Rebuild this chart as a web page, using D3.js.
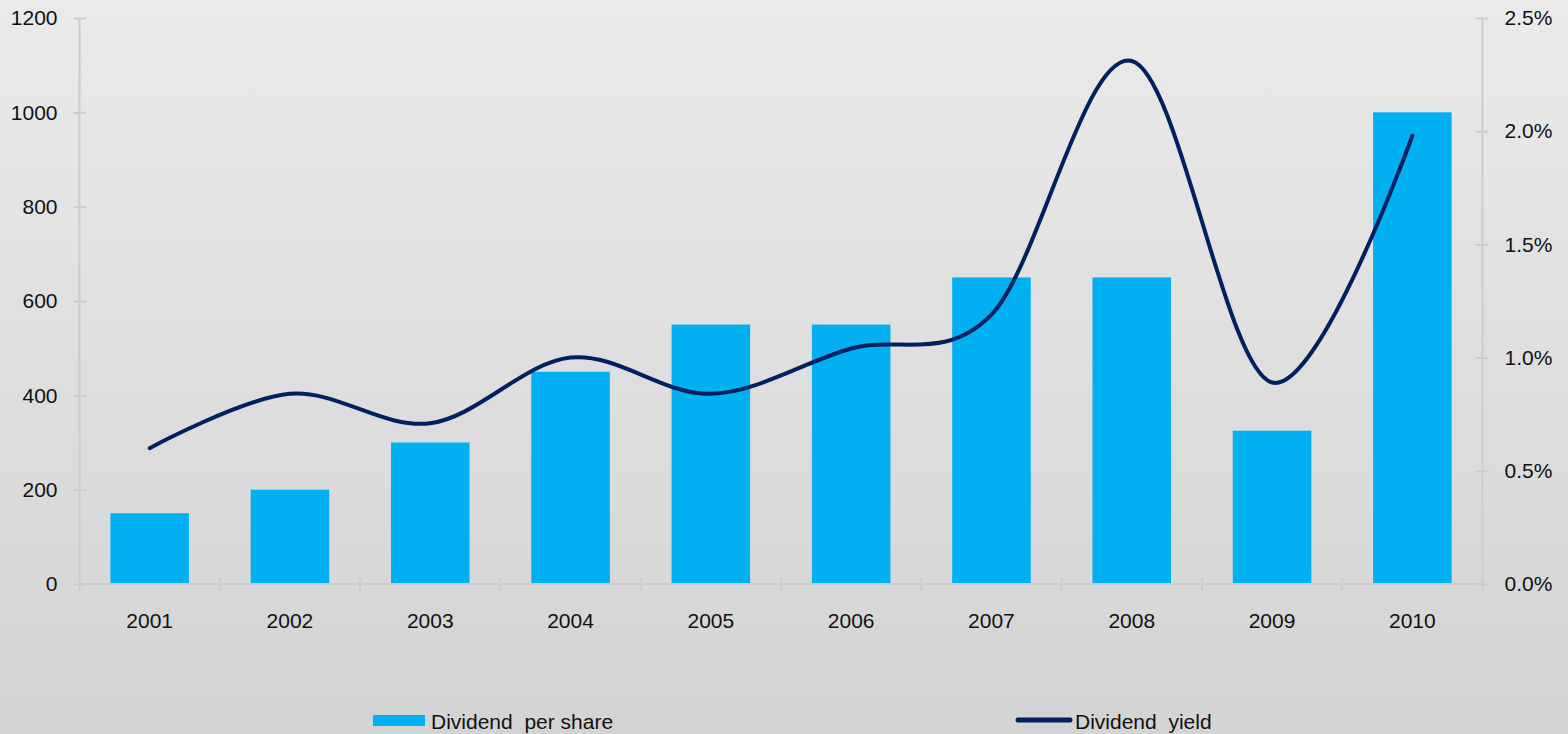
<!DOCTYPE html>
<html>
<head>
<meta charset="utf-8">
<script src="https://cdn.jsdelivr.net/npm/d3@7"></script>
<style>
  html, body { margin: 0; padding: 0; }
  svg { display: block; font-family: "Liberation Sans", Arial, sans-serif; }
</style>
</head>
<body>
<div class="chart"></div>
<script>
// Data
const years = ['2001', '2002', '2003', '2004', '2005', '2006', '2007', '2008', '2009', '2010'];
const dividendPerShare = [150, 200, 300, 450, 550, 550, 650, 650, 325, 1000];
const dividendYield = [0.60, 0.84, 0.71, 1.00, 0.84, 1.04, 1.19, 2.31, 0.89, 1.98];
const leftTicks = [0, 200, 400, 600, 800, 1000, 1200];
const rightTicks = [0, 0.5, 1.0, 1.5, 2.0, 2.5];

const W = 1568, H = 734;
const plotLeft = 79.5, plotRight = 1482.5, plotTop = 18, plotBottom = 584;
const axisColor = '#c9ccd1';
const fontSize = '21px';

const svg = d3.select('.chart')
    .append('svg')
    .attr('width', W)
    .attr('height', H);

// background gradient
const defs = svg.append('defs');
const grad = defs.append('linearGradient')
    .attr('id', 'bg')
    .attr('x1', 0).attr('y1', 0).attr('x2', 0).attr('y2', 1);
grad.append('stop').attr('offset', '0%').attr('stop-color', '#eaeaea');
grad.append('stop').attr('offset', '100%').attr('stop-color', '#d3d3d3');

svg.append('rect')
    .attr('width', W)
    .attr('height', H)
    .attr('fill', 'url(#bg)');

// Scales
const x = d3.scaleBand()
    .domain(years)
    .range([plotLeft, plotRight])
    .paddingInner(0.44)
    .paddingOuter(0.22);

const yLeft = d3.scaleLinear().domain([0, 1200]).range([plotBottom, plotTop]);
const yRight = d3.scaleLinear().domain([0, 2.5]).range([plotBottom, plotTop]);

// Bars
svg.selectAll('.bar')
    .data(years)
    .join('rect')
    .attr('class', 'bar')
    .attr('x', d => x(d))
    .attr('width', x.bandwidth())
    .attr('y', (d, i) => yLeft(dividendPerShare[i]))
    .attr('height', (d, i) => plotBottom - yLeft(dividendPerShare[i]))
    .attr('fill', '#00b0f0');

// Left axis
const gLeft = svg.append('g')
    .attr('transform', `translate(${plotLeft},0)`)
    .call(d3.axisLeft(yLeft).tickValues(leftTicks).tickSize(6).tickPadding(16).tickFormat(d3.format('d')));

// Right axis
const gRight = svg.append('g')
    .attr('transform', `translate(${plotRight},0)`)
    .call(d3.axisRight(yRight).tickValues(rightTicks).tickSize(6).tickPadding(16).tickFormat(d => d.toFixed(1) + '%'));

[gLeft, gRight].forEach((g, k) => {
    g.select('.domain').attr('stroke', axisColor).attr('stroke-width', 2)
        .attr('d', `M0,${plotTop}V${plotBottom}`);
    g.selectAll('.tick line')
        .attr('stroke', axisColor)
        .attr('stroke-width', 2)
        .attr('x1', k === 0 ? 7 : -7);
    g.selectAll('.tick text')
        .attr('fill', '#111')
        .style('font-size', fontSize)
        .style('font-family', '"Liberation Sans", Arial, sans-serif');
});

// Bottom axis line + ticks at category boundaries
const gap = x.step() - x.bandwidth();
const boundaries = years.map(d => x(d) - gap / 2).concat([x(years[years.length - 1]) + x.bandwidth() + gap / 2]);

svg.append('line')
    .attr('x1', plotLeft).attr('x2', plotRight)
    .attr('y1', plotBottom).attr('y2', plotBottom)
    .attr('stroke', axisColor)
    .attr('stroke-width', 2);

svg.selectAll('.xtick')
    .data(boundaries)
    .join('line')
    .attr('class', 'xtick')
    .attr('x1', d => d).attr('x2', d => d)
    .attr('y1', plotBottom - 6).attr('y2', plotBottom + 7)
    .attr('stroke', axisColor)
    .attr('stroke-width', 2);

svg.selectAll('.xlabel')
    .data(years)
    .join('text')
    .attr('class', 'xlabel')
    .attr('x', d => x(d) + x.bandwidth() / 2)
    .attr('y', 628)
    .attr('text-anchor', 'middle')
    .attr('fill', '#111')
    .style('font-size', fontSize)
    .text(d => d);

// Yield line
const line = d3.line()
    .x(d => x(d.year) + x.bandwidth() / 2)
    .y(d => yRight(d.value))
    .curve(d3.curveCatmullRom.alpha(0));

svg.append('path')
    .datum(years.map((d, i) => ({ year: d, value: dividendYield[i] })))
    .attr('d', line)
    .attr('fill', 'none')
    .attr('stroke', '#002060')
    .attr('stroke-width', 4)
    .attr('stroke-linecap', 'round');

// Legend
const legend = svg.append('g');
legend.append('rect')
    .attr('x', 373).attr('y', 715)
    .attr('width', 52).attr('height', 11)
    .attr('fill', '#00b0f0');
legend.append('text')
    .attr('x', 431).attr('y', 729)
    .attr('fill', '#111')
    .style('font-size', fontSize)
    .style('white-space', 'pre')
    .text('Dividend  per share');

legend.append('line')
    .attr('x1', 1018).attr('x2', 1070)
    .attr('y1', 720).attr('y2', 720)
    .attr('stroke', '#002060')
    .attr('stroke-width', 5)
    .attr('stroke-linecap', 'round');
legend.append('text')
    .attr('x', 1075).attr('y', 729)
    .attr('fill', '#111')
    .style('font-size', fontSize)
    .style('white-space', 'pre')
    .text('Dividend  yield');
</script>
</body>
</html>
